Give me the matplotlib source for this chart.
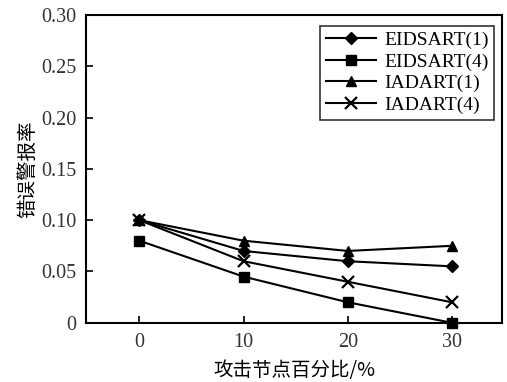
#!/usr/bin/env python3
# coding: utf-8

import matplotlib
matplotlib.use("Agg")
import matplotlib.pyplot as plt
from matplotlib.ticker import FuncFormatter

# attack node ratio (%)
attack_pct = [0, 10, 20, 30]

# false alarm rate per scheme
eidsart_1 = [0.10, 0.07, 0.06, 0.055]
eidsart_4 = [0.08, 0.045, 0.02, 0.0]
iadart_1 = [0.10, 0.08, 0.07, 0.075]
iadart_4 = [0.10, 0.06, 0.04, 0.02]

series_names = ["EIDSART(1)", "EIDSART(4)", "IADART(1)", "IADART(4)"]
y_ticks = [0, 0.05, 0.10, 0.15, 0.20, 0.25, 0.30]

serif = ["Liberation Serif", "DejaVu Serif"]
cjk = ["Noto Sans CJK SC", "DejaVu Sans"]

fig = plt.figure(figsize=(5.07, 3.82), dpi=100)
ax = fig.add_axes([0.170, 0.155, 0.820, 0.806])

styles = [("D", 6.5, 1.0), ("s", 7, 1.0), ("^", 7.5, 1.0), ("x", 8, 1.6)]
for vals, name, (mk, ms, mew) in zip([eidsart_1, eidsart_4, iadart_1, iadart_4],
                                     series_names, styles):
    ax.plot(attack_pct, vals, color="black", lw=1.5, marker=mk, ms=ms,
            mew=mew, mfc="black", mec="black", label=name, clip_on=False)

ax.set_xlim(-5.1, 34.8)
ax.set_ylim(0, 0.30)
ax.set_xticks(attack_pct)
ax.set_yticks(y_ticks)
ax.yaxis.set_major_formatter(FuncFormatter(lambda v, p: "0" if v == 0 else "%.2f" % v))

for sp in ax.spines.values():
    sp.set_linewidth(1.5)
ax.tick_params(direction="in", length=5, width=1.2, labelsize=14.5, pad=7)
for lab in ax.get_xticklabels() + ax.get_yticklabels():
    lab.set_family(serif)
    lab.set_color("#333333")

ax.set_xlabel("攻击节点百分比/%", family=cjk, fontsize=14, labelpad=6)
ax.set_ylabel("错误警报率", family=cjk, fontsize=14, labelpad=2)

leg = ax.legend(loc="upper right", bbox_to_anchor=(0.982, 0.965), prop={"family": serif, "size": 14},
                frameon=True, fancybox=False, edgecolor="black", handlelength=2.6,
                handletextpad=0.4, borderpad=0.3, labelspacing=0.2, borderaxespad=0)
leg.get_frame().set_linewidth(1.2)

fig.savefig("out.png", dpi=100)
